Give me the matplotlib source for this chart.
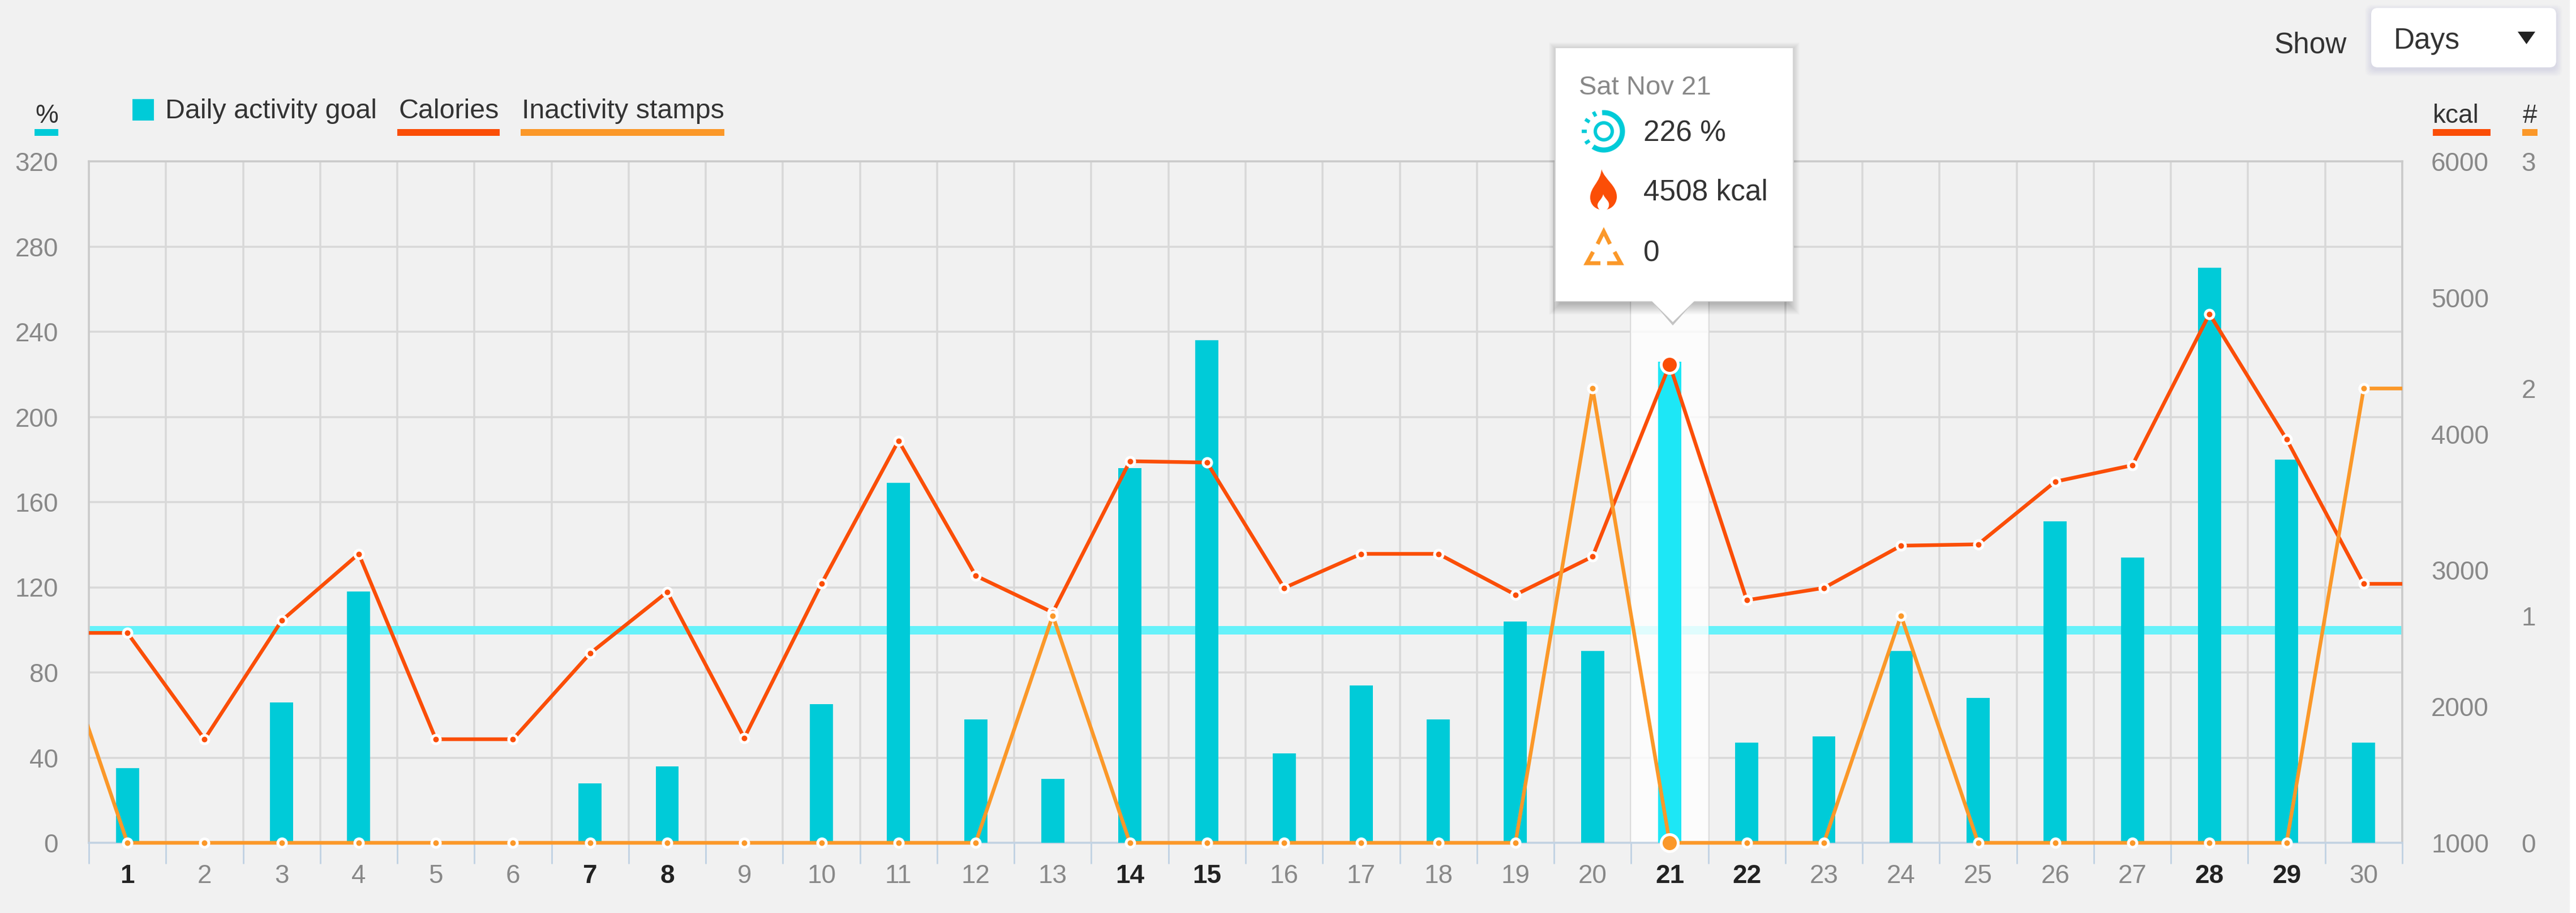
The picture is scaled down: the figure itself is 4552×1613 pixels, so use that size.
import numpy as np
import matplotlib
matplotlib.use("Agg")
import matplotlib.pyplot as plt
from matplotlib.patches import Rectangle, FancyBboxPatch, PathPatch, Polygon, Circle
from matplotlib.path import Path
from matplotlib.transforms import Bbox, TransformedBbox

plt.rcParams['font.family'] = ['Liberation Sans', 'DejaVu Sans']

# Values
days = list(range(1, 31))
bold_days = [1, 7, 8, 14, 15, 21, 22, 28, 29]
activity_pct = [35, 0, 66, 118, 0, 0, 28, 36, 0, 65, 169, 58, 30, 176, 236,
                42, 74, 58, 104, 90, 226, 47, 50, 90, 68, 151, 134, 270, 180, 47]
goal_pct = 100
# the two lines run on past both edges of the plot, so they have a day 0 and a day 31
line_days = list(range(0, 32))
calories = [2540, 2540, 1760, 2630, 3120, 1760, 1760, 2390, 2840, 1770, 2900, 3950,
            2960, 2690, 3800, 3790, 2870, 3120, 3120, 2820, 3100, 4508, 2780, 2870,
            3180, 3190, 3650, 3770, 4880, 3960, 2900, 2900]
stamps = [1, 0, 0, 0, 0, 0, 0, 0, 0, 0, 0, 0, 0, 1, 0, 0, 0, 0, 0, 0, 2, 0, 0, 0, 1,
          0, 0, 0, 0, 0, 2, 2]
pct_ticks = [0, 40, 80, 120, 160, 200, 240, 280, 320]
kcal_ticks = [1000, 2000, 3000, 4000, 5000, 6000]
stamp_ticks = [0, 1, 2, 3]
hover_day = 21
hover_date = "Sat Nov 21"
hover_pct = "226 %"
hover_kcal = "4508 kcal"
hover_stamps = "0"

BG = '#f1f1f1'
CYAN = '#00cbd8'
CYAN_HI = '#1de7f6'
GOAL = '#66f2fa'
RED = '#fb4e07'
ORANGE = '#fb9829'
GRID = '#d8d8d8'
EDGE = '#cacaca'
TICK = '#c3d3e3'
GREY_TXT = '#888888'
DARK_TXT = '#333333'

W, H = 4552, 1613
PX = 0.72  # one pixel in points at dpi 100
L, R, T, B = 157, 4245, 285, 1489

fig = plt.figure(figsize=(W / 100, H / 100), dpi=100, facecolor='white')
fig.add_artist(Rectangle((0, 0), 4540 / W, 1, transform=fig.transFigure, color=BG, zorder=-5))

ax = fig.add_axes([L / W, 1 - B / H, (R - L) / W, (B - T) / H], facecolor='none')
ax.set_xlim(0.5, 30.5)
ax.set_ylim(0, 320)

# grid and frame
ax.set_axisbelow(True)
ax.set_yticks(pct_ticks)
ax.set_xticks(np.arange(0.5, 31))
ax.set_xticklabels([])
ax.set_xticks(days, [str(d) for d in days], minor=True)
ax.grid(True, color=GRID, lw=3.5 * PX)
ax.tick_params(axis='y', length=0, pad=54 * PX, labelsize=33, labelcolor=GREY_TXT)
ax.tick_params(axis='x', which='major', length=37 * PX, width=3 * PX, color=TICK)
ax.tick_params(axis='x', which='minor', length=0, pad=37 * PX, labelsize=33)
for lab, d in zip(ax.get_xticklabels(minor=True), days):
    if d in bold_days:
        lab.set_color('#222222')
        lab.set_fontweight('bold')
    else:
        lab.set_color(GREY_TXT)
for name in ['left', 'right', 'top']:
    ax.spines[name].set_color(EDGE)
    ax.spines[name].set_linewidth(3.5 * PX)
ax.spines['bottom'].set_color(TICK)
ax.spines['bottom'].set_linewidth(3.5 * PX)

# goal line, hover band, bars
ax.axhline(goal_pct, color=GOAL, lw=15 * PX, zorder=1, solid_capstyle='butt')
ax.axvspan(hover_day - 0.5, hover_day + 0.5, color='white', alpha=0.8, lw=0, zorder=2)
bar_colors = [CYAN_HI if d == hover_day else CYAN for d in days]
ax.bar(days, activity_pct, width=0.30, color=bar_colors, zorder=3)


def draw_line(axis, ys, color):
    line, = axis.plot(line_days, ys, color=color, lw=6.5 * PX, zorder=3,
                      solid_joinstyle='round')
    # keep the full width of the line at the bottom edge
    line.set_clip_box(TransformedBbox(Bbox([[0, -0.01], [1, 1.01]]), axis.transAxes))
    xs = [d for d in line_days if d in days]
    vals = [y for d, y in zip(line_days, ys) if d in days]
    axis.plot(xs, vals, ls='none', marker='o', ms=15 * PX, mfc=color, mec='white',
              mew=5 * PX, zorder=4, clip_on=False)
    axis.plot([hover_day], [ys[line_days.index(hover_day)]], ls='none', marker='o',
              ms=30 * PX, mfc=color, mec='white', mew=5 * PX, zorder=5, clip_on=False)


ax2 = ax.twinx()
ax2.set_ylim(1000, 6000)
ax2.set_yticks(kcal_ticks)
ax2.tick_params(axis='y', length=0, pad=153 * PX, labelsize=33, labelcolor=GREY_TXT)
draw_line(ax2, calories, RED)

ax3 = ax.twinx()
ax3.set_ylim(0, 3)
ax3.set_yticks(stamp_ticks)
ax3.tick_params(axis='y', length=0, pad=236 * PX, labelsize=33, labelcolor=GREY_TXT)
draw_line(ax3, stamps, ORANGE)

for extra in [ax2, ax3]:
    extra.patch.set_visible(False)
    for s in extra.spines.values():
        s.set_visible(False)
    for lab in extra.get_yticklabels():
        lab.set_ha('right')

# legend, headers, dropdown and tooltip sit on an overlay measured in pixels
ui = fig.add_axes([0, 0, 1, 1], facecolor='none', zorder=10)
ui.set_xlim(0, W)
ui.set_ylim(H, 0)
ui.axis('off')


def label(x, y, s, size, color=DARK_TXT, ha='left'):
    ui.text(x, y, s, fontsize=size, color=color, ha=ha, va='baseline')


def strip(x0, x1, color):
    ui.add_patch(Rectangle((x0, 228), x1 - x0, 12, color=color, lw=0))


label(103, 217, '%', 33, ha='right')
strip(61, 103, CYAN)
ui.add_patch(Rectangle((234, 175), 38, 38, color=CYAN, lw=0))
label(292, 209, 'Daily activity goal', 34.8)
label(705, 209, 'Calories', 34.8)
strip(702, 883, RED)
label(922, 209, 'Inactivity stamps', 34.8)
strip(920, 1280, ORANGE)
label(4299, 217, 'kcal', 33)
strip(4299, 4401, RED)
label(4458, 217, '#', 33)
strip(4457, 4484, ORANGE)

# dropdown
label(4019, 93, 'Show', 37)
for i in range(12):
    ui.add_patch(FancyBboxPatch((4190 - i, 19 - i), 327 + 2 * i, 105 + 2 * i,
                                boxstyle='round,pad=0,rounding_size=12',
                                fc='#5a5a78', ec='none', alpha=0.008))
ui.add_patch(FancyBboxPatch((4190, 14), 327, 105, boxstyle='round,pad=0,rounding_size=12',
                            fc='white', ec='none'))
label(4230, 86, 'Days', 37)
ui.add_patch(Polygon([(4449, 56), (4480, 56), (4464.5, 78)], fc='#222222', ec='none'))

# tooltip
tx0, tx1, ty0, ty1 = 2749, 3168, 85, 532
for g in range(20, 0, -1):
    ui.add_patch(Rectangle((tx0 - g + 8, ty0 - g + 10), tx1 - tx0 + 2 * g - 16, ty1 - ty0 + 2 * g - 6,
                           fc='black', ec='none', alpha=0.011))
ui.add_patch(Polygon([(2918, ty1 - 1), (2956, 575), (2995, ty1 - 1)], fc='#c4c4c4', ec='none'))
ui.add_patch(Rectangle((tx0 - 2, ty0 - 2), tx1 - tx0 + 4, ty1 - ty0 + 3, fc='#d4d4d4', ec='none'))
ui.add_patch(Rectangle((tx0, ty0), tx1 - tx0, ty1 - ty0, fc='white', ec='none'))
ui.add_patch(Polygon([(2918, ty1 - 1), (2956, 569), (2995, ty1 - 1)], fc='white', ec='none'))
label(2790, 167, hover_date, 34, color=GREY_TXT)
label(2904, 250, hover_pct, 37)
label(2904, 354, hover_kcal, 37)
label(2904, 461, hover_stamps, 37)

# ring icon
cx, cy = 2834, 232
t = np.radians(np.linspace(-125, 95, 80))
ui.plot(cx + 33 * np.cos(t), cy - 33 * np.sin(t), color=CYAN, lw=9 * PX, solid_capstyle='butt')
ui.add_patch(Circle((cx, cy), 15, fc='none', ec=CYAN, lw=6 * PX))
for deg in [118, 147, 180, 213]:
    a = np.radians(deg)
    ui.plot([cx + 30 * np.cos(a), cx + 39 * np.cos(a)], [cy - 30 * np.sin(a), cy - 39 * np.sin(a)],
            color=CYAN, lw=6 * PX, solid_capstyle='butt')

# flame icon
C4 = Path.CURVE4
flame = Path([(2830, 299), (2836, 318), (2858, 328), (2857, 349), (2856, 363), (2845, 371), (2833, 371),
              (2821, 371), (2810, 363), (2810, 349), (2810, 330), (2828, 322), (2830, 299)],
             [Path.MOVETO] + [C4] * 12)
inner = Path([(2833, 343), (2836, 352), (2845, 355), (2843, 364), (2842, 369), (2838, 373), (2833, 373),
              (2828, 373), (2824, 369), (2823, 364), (2822, 356), (2831, 353), (2833, 343)],
             [Path.MOVETO] + [C4] * 12)
ui.add_patch(PathPatch(flame, fc=RED, ec='none'))
ui.add_patch(PathPatch(inner, fc='white', ec='none'))

# inactivity triangle icon
for pts in [[(2823, 431), (2834, 409), (2845, 431)],
            [(2815, 445), (2804, 465), (2828, 465)],
            [(2853, 445), (2864, 465), (2840, 465)]]:
    xs, ys = zip(*pts)
    ui.plot(xs, ys, color=ORANGE, lw=7 * PX, solid_joinstyle='miter', solid_capstyle='butt')

fig.savefig('out.png', dpi=100, facecolor=fig.get_facecolor())
